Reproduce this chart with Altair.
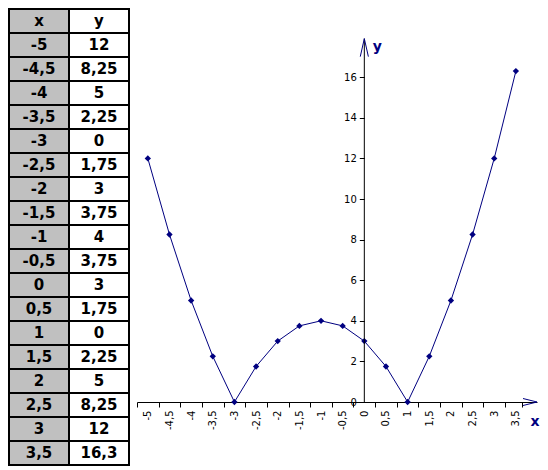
import altair as alt
import pandas as pd

# ---- data ----
xs = [-5, -4.5, -4, -3.5, -3, -2.5, -2, -1.5, -1, -0.5, 0, 0.5, 1, 1.5, 2, 2.5, 3, 3.5]
ys = [12, 8.25, 5, 2.25, 0, 1.75, 3, 3.75, 4, 3.75, 3, 1.75, 0, 2.25, 5, 8.25, 12, 16.3]
x_text = ["-5", "-4,5", "-4", "-3,5", "-3", "-2,5", "-2", "-1,5", "-1", "-0,5",
          "0", "0,5", "1", "1,5", "2", "2,5", "3", "3,5"]
y_text = ["12", "8,25", "5", "2,25", "0", "1,75", "3", "3,75", "4", "3,75",
          "3", "1,75", "0", "2,25", "5", "8,25", "12", "16,3"]
header = ["x", "y"]
y_ticks = [0, 2, 4, 6, 8, 10, 12, 14, 16]

NAVY = "#000080"
FONT = "DejaVu Sans"

# ---- table ----
rows = []
for r in range(len(xs) + 1):
    for c, col in enumerate(header):
        if r == 0:
            txt = header[c]
        else:
            txt = x_text[r - 1] if c == 0 else y_text[r - 1]
        rows.append({"row": r, "col": col, "txt": txt,
                     "fill": "gray" if col == "x" else "white"})
tdf = pd.DataFrame(rows)

tbase = alt.Chart(tdf).encode(
    x=alt.X("col:N", scale=alt.Scale(paddingInner=0, paddingOuter=0), axis=None),
    y=alt.Y("row:O", scale=alt.Scale(paddingInner=0, paddingOuter=0), axis=None),
)
trect = tbase.mark_rect(stroke="black", strokeWidth=2).encode(
    color=alt.Color("fill:N", scale=alt.Scale(domain=["gray", "white"],
                                              range=["#C0C0C0", "#FFFFFF"]), legend=None)
)
ttext = tbase.mark_text(font=FONT, fontWeight="bold", fontSize=15, color="black",
                        align="center", baseline="middle").encode(text="txt:N")
table = (trect + ttext).properties(width=120, height=456)

# ---- plot ----
PPU_X = 43.3
PPU_Y = 20.3
XMIN = -5.25
W = 400
XMAX = XMIN + W / PPU_X
H = 393
YMAX = H / PPU_Y
YTOP = 17.9

df = pd.DataFrame({"x": xs, "y": ys})

xscale = alt.Scale(domain=[XMIN, XMAX], nice=False, zero=False)
yscale = alt.Scale(domain=[0, YMAX], nice=False, zero=False)

x_tick_values = xs + [3.9]
xaxis = alt.Axis(values=x_tick_values, tickCount=len(x_tick_values) + 5,
                 title=None, grid=False, labelAngle=270,
                 labelExpr="datum.value > 3.6 ? '' : replace(toString(datum.value), '.', ',')",
                 tickOffset=-0.25 * PPU_X, labelOffset=0.25 * PPU_X,
                 tickSize=5, tickColor="black", domainColor="black",
                 labelColor="black", labelFont=FONT, labelFontSize=10,
                 labelPadding=3, labelFlush=False, labelOverlap=False)
yaxis = alt.Axis(values=y_ticks, tickCount=len(y_ticks) + 5,
                 title=None, grid=False, domain=False,
                 offset=-(0 - XMIN) * PPU_X, tickSize=5, tickColor="black",
                 labelColor="black", labelFont=FONT, labelFontSize=10,
                 labelPadding=3, labelFlush=False, labelOverlap=False)

line = alt.Chart(df).mark_line(color=NAVY, strokeWidth=1).encode(
    x=alt.X("x:Q", scale=xscale, axis=xaxis),
    y=alt.Y("y:Q", scale=yscale, axis=yaxis),
)
pts = alt.Chart(df).mark_point(shape="diamond", filled=True, size=40,
                               color=NAVY, opacity=1).encode(x="x:Q", y="y:Q")

yline = alt.Chart().mark_rule(color="black", strokeWidth=1).encode(
    x=alt.datum(0), y=alt.datum(0), y2=alt.datum(YTOP))

yarrow = alt.Chart().mark_point(shape="M-0.45,1L0,-1L0.45,1", filled=False,
                                size=324, stroke=NAVY, strokeWidth=1, opacity=1).encode(
    x=alt.datum(0), y=alt.datum(YTOP - 9 / PPU_Y))
xarrow = alt.Chart().mark_point(shape="M-1,-0.5L1,0L-1,0.5", filled=False,
                                size=196, stroke=NAVY, strokeWidth=1, opacity=1).encode(
    x=alt.datum(XMAX - 7 / PPU_X), y=alt.datum(0))

ylab = alt.Chart().mark_text(text="y", font=FONT, fontWeight="bold", fontSize=14,
                             color=NAVY, align="center", baseline="middle", dx=13).encode(
    x=alt.datum(0), y=alt.datum(17.5))
xlab = alt.Chart().mark_text(text="x", font=FONT, fontWeight="bold", fontSize=14,
                             color=NAVY, align="center", baseline="middle", dy=20, dx=-2).encode(
    x=alt.datum(XMAX), y=alt.datum(0))

plot = alt.layer(line, pts, yline, yarrow, xarrow, ylab, xlab).properties(width=W, height=H)

chart = (alt.hconcat(table, plot, spacing=6)
         .properties(padding=0)
         .configure_view(stroke=None)
         .configure_axis(labelOverlap=False))

chart.save("out.html", embed_options={"renderer": "svg", "actions": False})
